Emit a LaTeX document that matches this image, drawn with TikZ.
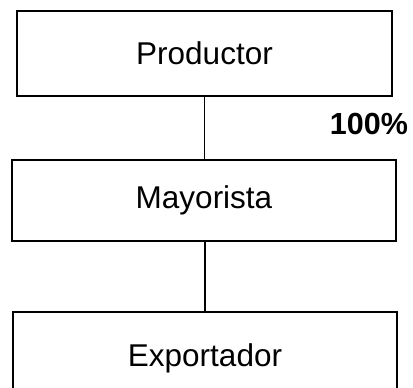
\documentclass[tikz,border=0pt]{standalone}
\usepackage{fontspec}
\setmainfont{Liberation Sans}
\begin{document}
\begin{tikzpicture}[x=1pt,y=-1pt,
  boxnode/.style={draw,line width=1.3pt,inner sep=0pt,font=\fontsize{31.5}{36}\selectfont},
  conn/.style={line width=1.3pt}]
\useasboundingbox (0,0) rectangle (413,388);
\clip (0,0) rectangle (413,388);
\node[boxnode,minimum width=375pt,minimum height=85pt] (p) at (204.5,53.5) {Productor};
\node[boxnode,minimum width=384pt,minimum height=81pt] (m) at (204,200.5) {Mayorista};
\node[boxnode,minimum width=384pt,minimum height=92pt] (e) at (205,358) {Exportador};
\node[font=\bfseries\fontsize{30.5}{35}\selectfont,inner sep=0pt] (pct) at (369,124) {100\%};
\draw[conn] (p.south) -- (p.south |- m.north);
\draw[conn] (e.north) -- (e.north |- m.south);
\end{tikzpicture}
\end{document}
